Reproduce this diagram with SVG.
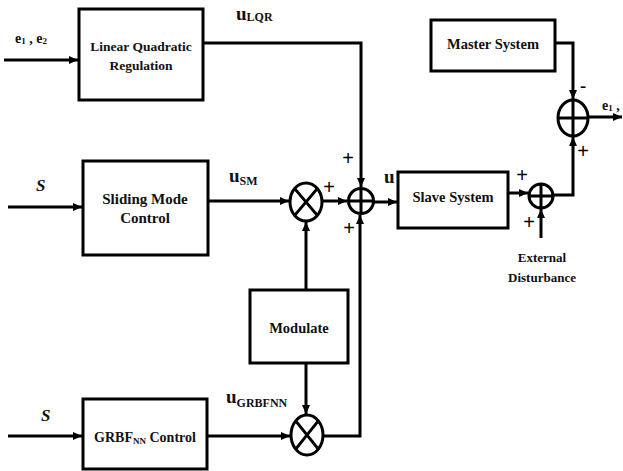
<svg xmlns="http://www.w3.org/2000/svg" width="623" height="471" viewBox="0 0 623 471">
<style>
.box{fill:#fff;stroke:#000;stroke-width:3}
.ln{fill:none;stroke:#000;stroke-width:3}
.op{fill:#fff;stroke:#000;stroke-width:3}
.lb{font-family:"Liberation Serif",serif;font-weight:bold;fill:#111;text-anchor:middle}
.sig{font-family:"Liberation Serif",serif;font-weight:bold;fill:#111}
.pm{font-family:"Liberation Sans",sans-serif;font-size:20px;fill:#000;text-anchor:middle}
</style>
<defs>
<marker id="ah" markerUnits="userSpaceOnUse" markerWidth="10" markerHeight="9" refX="9" refY="4" orient="auto">
<path d="M0,0 L9,4 L0,8 z" fill="#000"/>
</marker>
</defs>
<rect width="623" height="471" fill="#fff"/>
<g id="connectors">
<path class="ln" d="M4,60 H78" marker-end="url(#ah)"/>
<path class="ln" d="M203,43 H361 V187" marker-end="url(#ah)"/>
<path class="ln" d="M8,207 H82" marker-end="url(#ah)"/>
<path class="ln" d="M208,201 H289" marker-end="url(#ah)"/>
<path class="ln" d="M322,201 H347" marker-end="url(#ah)"/>
<path class="ln" d="M306,290 V222" marker-end="url(#ah)"/>
<path class="ln" d="M306,363 V414" marker-end="url(#ah)"/>
<path class="ln" d="M8,436 H82" marker-end="url(#ah)"/>
<path class="ln" d="M207,436 H290" marker-end="url(#ah)"/>
<path class="ln" d="M323,436 H360 V215" marker-end="url(#ah)"/>
<path class="ln" d="M374,202 H397" marker-end="url(#ah)"/>
<path class="ln" d="M508,193 H528" marker-end="url(#ah)"/>
<path class="ln" d="M541,238 V209" marker-end="url(#ah)"/>
<path class="ln" d="M553,195 H573 V137" marker-end="url(#ah)"/>
<path class="ln" d="M555,43 H573 V99" marker-end="url(#ah)"/>
<path class="ln" d="M588,117 H622" marker-end="url(#ah)"/>
</g>
<g id="lqr">
<rect class="box" x="79" y="9" width="124" height="91"/>
<text class="lb" x="141" y="51" font-size="13.5">Linear Quadratic</text>
<text class="lb" x="141" y="70" font-size="13.5">Regulation</text>
</g>
<g id="smc">
<rect class="box" x="83" y="161" width="125" height="94"/>
<text class="lb" x="145" y="204" font-size="15">Sliding Mode</text>
<text class="lb" x="145" y="223" font-size="15">Control</text>
</g>
<g id="modulate">
<rect class="box" x="250" y="290" width="98" height="73"/>
<text class="lb" x="299" y="333" font-size="14.5">Modulate</text>
</g>
<g id="grbf">
<rect class="box" x="83" y="399" width="124" height="70"/>
<text class="lb" x="145" y="442" font-size="14">GRBF<tspan font-size="9" dy="2">NN</tspan><tspan dy="-2"> Control</tspan></text>
</g>
<g id="master">
<rect class="box" x="431" y="20" width="124" height="51"/>
<text class="lb" x="493" y="49" font-size="14.5">Master System</text>
</g>
<g id="slave">
<rect class="box" x="398" y="172" width="110" height="56"/>
<text class="lb" x="453" y="202" font-size="14.5">Slave System</text>
</g>
<g id="mult1">
<ellipse class="op" cx="306" cy="202" rx="16" ry="19"/>
<path class="ln" d="M294.7,188.6 L317.3,215.4 M317.3,188.6 L294.7,215.4"/>
</g>
<g id="mult2">
<ellipse class="op" cx="307" cy="435" rx="16" ry="20"/>
<path class="ln" d="M295.7,420.9 L318.3,449.1 M318.3,420.9 L295.7,449.1"/>
</g>
<g id="sum1">
<circle class="op" cx="361" cy="201" r="12.5"/>
<path class="ln" d="M348.5,201 H373.5 M361,188.5 V213.5"/>
</g>
<g id="sum2">
<circle class="op" cx="541" cy="196" r="12"/>
<path class="ln" d="M529,196 H553 M541,184 V208"/>
</g>
<g id="sum3">
<ellipse class="op" cx="573" cy="118" rx="15" ry="18"/>
<path class="ln" d="M558,118 H588 M573,100 V136"/>
</g>
<g id="labels">
<text class="sig" x="15" y="43" font-size="14">e<tspan font-size="9" dy="1">1</tspan><tspan dy="-1"> , e</tspan><tspan font-size="9" dy="1">2</tspan></text>
<text class="sig" x="236" y="20" font-size="19">u<tspan font-size="12" dy="1">LQR</tspan></text>
<text class="sig" x="229" y="182" font-size="19">u<tspan font-size="12" dy="3">SM</tspan></text>
<text class="sig" x="384" y="183" font-size="19">u</text>
<text class="sig" x="226" y="403" font-size="19">u<tspan font-size="12" dy="4">GRBFNN</tspan></text>
<text class="sig" x="36" y="191" font-size="17" font-style="italic">S</text>
<text class="sig" x="41" y="421" font-size="17" font-style="italic">S</text>
<text class="sig" x="602" y="110" font-size="14">e<tspan font-size="9" dy="1">1</tspan><tspan dy="-1"> ,</tspan></text>
<text class="lb" x="542" y="262" font-size="13">External</text>
<text class="lb" x="542" y="282" font-size="13">Disturbance</text>
<text class="pm" x="348" y="165">+</text>
<text class="pm" x="329" y="194">+</text>
<text class="pm" x="349" y="235">+</text>
<text class="pm" x="522" y="182">+</text>
<text class="pm" x="529" y="229">+</text>
<text class="pm" x="583" y="158">+</text>
<text class="pm" x="583" y="93">-</text>
</g>
</svg>
